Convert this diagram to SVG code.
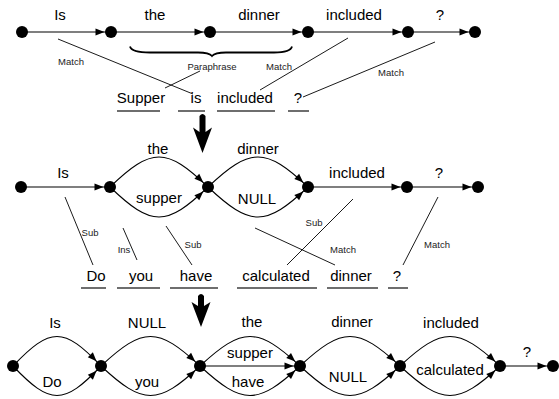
<svg xmlns="http://www.w3.org/2000/svg" width="559" height="399" viewBox="0 0 559 399">
<defs>
<marker id="ah" markerUnits="userSpaceOnUse" markerWidth="16" markerHeight="7" refX="15.5" refY="3.5" orient="auto" overflow="visible">
<path d="M0,0 L9,3.5 L0,7 Z" fill="#000"/>
</marker>
<style>
.e{fill:none;stroke:#000;stroke-width:1.1;marker-end:url(#ah)}
.a{fill:none;stroke:#000;stroke-width:0.9}
.u{stroke:#6e6e6e;stroke-width:2}
.n{fill:#000}
.w{font-family:"Liberation Sans",Arial,Helvetica,sans-serif;font-size:15px;fill:#000;text-anchor:middle}
.s{font-family:"Liberation Sans",Arial,Helvetica,sans-serif;font-size:9.5px;fill:#222;text-anchor:middle}
.big{fill:#000}
</style>
</defs>
<rect width="559" height="399" fill="#fff"/>

<g id="connectors">
<!-- row 1 edges -->
<line class="e" x1="22" y1="32" x2="111" y2="32"/>
<line class="e" x1="111" y1="32" x2="210" y2="32"/>
<line class="e" x1="210" y1="32" x2="308" y2="32"/>
<line class="e" x1="308" y1="32" x2="408" y2="32"/>
<line class="e" x1="408" y1="32" x2="475" y2="32"/>
<!-- row 1 alignments -->
<path d="M130,46.5 Q131.5,52.5 150,52.5 L198,52.5 Q209,52.5 212,56 Q215,52.5 226,52.5 L274,52.5 Q290.5,52.5 292,46.5" fill="none" stroke="#000" stroke-width="1.8"/>
<line class="a" x1="58" y1="39" x2="193" y2="94"/>
<line class="a" x1="165" y1="88" x2="200" y2="71"/>
<line class="a" x1="348" y1="38" x2="260" y2="90"/>
<line class="a" x1="435" y1="42" x2="303" y2="97"/>

<!-- row 2 edges -->
<line class="e" x1="21" y1="187" x2="110" y2="187"/>
<path class="e" d="M110,187 C151.6,147 166.4,147 208,187"/>
<path class="e" d="M110,187 C151.6,227 166.4,227 208,187"/>
<path class="e" d="M208,187 C250.4,147 265.6,147 308,187"/>
<path class="e" d="M208,187 C250.4,227 265.6,227 308,187"/>
<line class="e" x1="308" y1="187" x2="407" y2="187"/>
<line class="e" x1="407" y1="187" x2="478" y2="187"/>
<!-- row 2 alignments -->
<line class="a" x1="65" y1="197" x2="93" y2="265"/>
<line class="a" x1="123" y1="228" x2="137" y2="260"/>
<line class="a" x1="166" y1="226" x2="192" y2="265"/>
<line class="a" x1="353" y1="199" x2="287" y2="265"/>
<line class="a" x1="255" y1="228" x2="335" y2="265"/>
<line class="a" x1="438" y1="197" x2="403" y2="265"/>

<!-- row 3 edges -->
<path class="e" d="M13,366 C50.3,326.7 63.7,326.7 101,366"/>
<path class="e" d="M13,366 C50.3,405.3 63.7,405.3 101,366"/>
<path class="e" d="M101,366 C143,326.7 158,326.7 200,366"/>
<path class="e" d="M101,366 C143,405.3 158,405.3 200,366"/>
<path class="e" d="M200,366 C242.4,326.7 257.6,326.7 300,366"/>
<line class="e" x1="200" y1="366" x2="300" y2="366"/>
<path class="e" d="M200,366 C242.4,405.3 257.6,405.3 300,366"/>
<path class="e" d="M300,366 C342.4,326.7 357.6,326.7 400,366"/>
<path class="e" d="M300,366 C342.4,405.3 357.6,405.3 400,366"/>
<path class="e" d="M400,366 C442.4,326.7 457.6,326.7 500,366"/>
<path class="e" d="M400,366 C442.4,405.3 457.6,405.3 500,366"/>
<line class="e" x1="500" y1="366" x2="553" y2="366"/>
</g>

<!-- big transition arrows -->
<path class="big" d="M199.5,116 Q202.5,112 205.5,116 L205.5,132 L212,127.5 L202.5,153 L193,127.5 L199.5,132 Z"/>
<path class="big" d="M198,296 Q201,292 204,296 L204,306 L210.5,302 L201,327 L191.5,302 L198,306 Z"/>

<!-- row 1 nodes -->
<g id="r1n1"><circle class="n" cx="22" cy="32" r="6"/></g>
<g id="r1n2"><circle class="n" cx="111" cy="32" r="6"/></g>
<g id="r1n3"><circle class="n" cx="210" cy="32" r="6"/></g>
<g id="r1n4"><circle class="n" cx="308" cy="32" r="6"/></g>
<g id="r1n5"><circle class="n" cx="408" cy="32" r="6"/></g>
<g id="r1n6"><circle class="n" cx="475" cy="32" r="6"/></g>
<g id="r1labels">
<text class="w" x="60" y="20">Is</text>
<text class="w" x="155" y="20">the</text>
<text class="w" x="259" y="20">dinner</text>
<text class="w" x="354" y="20">included</text>
<text class="w" x="440" y="20">?</text>
<text class="s" x="71" y="64.5">Match</text>
<text class="s" x="212" y="69.5">Paraphrase</text>
<text class="s" x="279" y="69.5">Match</text>
<text class="s" x="391" y="75.5">Match</text>
</g>
<g id="r1words">
<text class="w" x="141" y="103">Supper</text>
<text class="w" x="196" y="103">is</text>
<text class="w" x="245" y="103">included</text>
<text class="w" x="298" y="103">?</text>
<line class="u" x1="117" y1="111" x2="160" y2="111"/>
<line class="u" x1="178" y1="111" x2="205" y2="111"/>
<line class="u" x1="217" y1="111" x2="275" y2="111"/>
<line class="u" x1="288" y1="111" x2="309" y2="111"/>
</g>

<!-- row 2 nodes -->
<g id="r2n1"><circle class="n" cx="21" cy="187" r="6"/></g>
<g id="r2n2"><circle class="n" cx="110" cy="187" r="6"/></g>
<g id="r2n3"><circle class="n" cx="208" cy="187" r="6"/></g>
<g id="r2n4"><circle class="n" cx="308" cy="187" r="6"/></g>
<g id="r2n5"><circle class="n" cx="407" cy="187" r="6"/></g>
<g id="r2n6"><circle class="n" cx="478" cy="187" r="6"/></g>
<g id="r2labels">
<text class="w" x="63" y="178">Is</text>
<text class="w" x="158" y="154">the</text>
<text class="w" x="159" y="203">supper</text>
<text class="w" x="258" y="154">dinner</text>
<text class="w" x="257" y="204">NULL</text>
<text class="w" x="357" y="178">included</text>
<text class="w" x="439" y="178">?</text>
<text class="s" x="90" y="235.5">Sub</text>
<text class="s" x="124" y="252.5">Ins</text>
<text class="s" x="193" y="247.5">Sub</text>
<text class="s" x="314" y="225.5">Sub</text>
<text class="s" x="343" y="252.5">Match</text>
<text class="s" x="437" y="247.5">Match</text>
</g>
<g id="r2words">
<text class="w" x="96" y="281">Do</text>
<text class="w" x="141" y="281">you</text>
<text class="w" x="196" y="281">have</text>
<text class="w" x="276" y="281">calculated</text>
<text class="w" x="351" y="281">dinner</text>
<text class="w" x="397" y="281">?</text>
<line class="u" x1="81" y1="288" x2="106" y2="288"/>
<line class="u" x1="117" y1="288" x2="160" y2="288"/>
<line class="u" x1="170" y1="288" x2="218" y2="288"/>
<line class="u" x1="237" y1="288" x2="317" y2="288"/>
<line class="u" x1="327" y1="288" x2="378" y2="288"/>
<line class="u" x1="388" y1="288" x2="408" y2="288"/>
</g>

<!-- row 3 nodes -->
<g id="r3n1"><circle class="n" cx="13" cy="366" r="6"/></g>
<g id="r3n2"><circle class="n" cx="101" cy="366" r="6"/></g>
<g id="r3n3"><circle class="n" cx="200" cy="366" r="6"/></g>
<g id="r3n4"><circle class="n" cx="300" cy="366" r="6"/></g>
<g id="r3n5"><circle class="n" cx="400" cy="366" r="6"/></g>
<g id="r3n6"><circle class="n" cx="500" cy="366" r="6"/></g>
<g id="r3n7"><circle class="n" cx="553" cy="366" r="6"/></g>
<g id="r3labels">
<text class="w" x="55" y="328">Is</text>
<text class="w" x="52" y="387">Do</text>
<text class="w" x="147" y="328">NULL</text>
<text class="w" x="147" y="387">you</text>
<text class="w" x="252" y="327">the</text>
<text class="w" x="250" y="358">supper</text>
<text class="w" x="248" y="387">have</text>
<text class="w" x="352" y="327">dinner</text>
<text class="w" x="348" y="382">NULL</text>
<text class="w" x="451" y="328">included</text>
<text class="w" x="450" y="375">calculated</text>
<text class="w" x="527" y="357">?</text>
</g>
</svg>
